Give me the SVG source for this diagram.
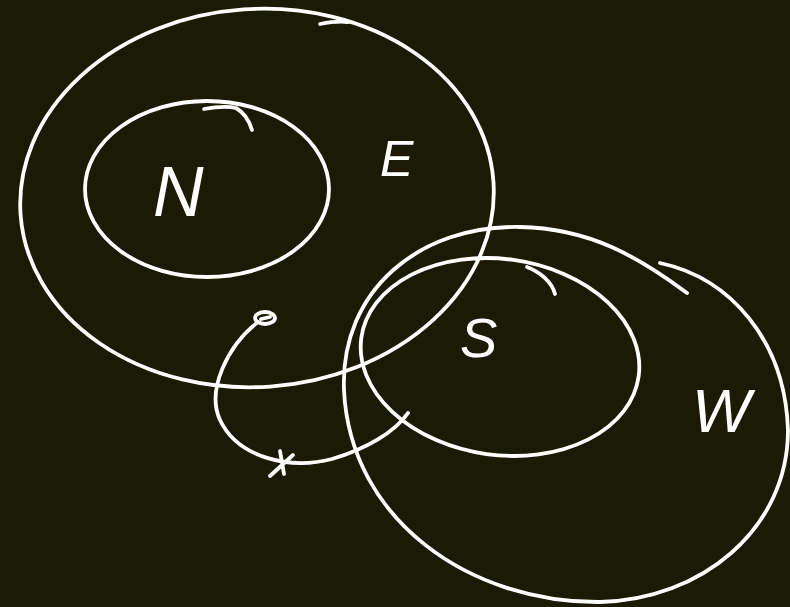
<svg xmlns="http://www.w3.org/2000/svg" width="790" height="607" viewBox="0 0 790 607">
<style>
.s{fill:none;stroke:#ffffff;stroke-width:3.8;stroke-linecap:round;stroke-linejoin:round}
.t{fill:#ffffff;font-family:"Liberation Sans",Arial,sans-serif;font-style:italic}
</style>
<rect width="790" height="607" fill="#1b1a04"/>
<g id="E">
<ellipse class="s" cx="257" cy="198" rx="237" ry="189" transform="rotate(-4 257 198)"/>
<path class="s" d="M320,24 C330,22 340,21 348,22"/>
<text class="t" x="380" y="176" font-size="50">E</text>
</g>
<g id="N">
<ellipse class="s" cx="207" cy="189" rx="122" ry="88"/>
<path class="s" d="M204,109 C215,107 228,106 236,108 C243,112 249,120 252,130"/>
<text class="t" x="153" y="216" font-size="70">N</text>
</g>
<g id="S">
<ellipse class="s" cx="500" cy="357" rx="140" ry="98" transform="rotate(8 500 357)"/>
<path class="s" d="M527,267 C540,272 552,282 555,294"/>
<text class="t" x="460" y="357" font-size="56">S</text>
</g>
<g id="W">
<path class="s" d="M660,263 C730,278 785,340 788,430 C788,530 700,600 600,602 C470,603 350,520 344,390 C340,290 420,225 520,227 C590,228 640,258 687,293"/>
<text class="t" x="692" y="432" font-size="62">W</text>
</g>
<g id="connectors">
<ellipse class="s" cx="265" cy="318" rx="10" ry="6"/>
<path class="s" d="M261,319 L270,317"/>
<path class="s" d="M258,322 C228,345 206,390 220,420 C238,458 290,470 332,459 C366,449 395,432 408,413"/>
<path class="s" d="M280,451 L284,474 M270,476 L293,455"/>
</g>
</svg>
